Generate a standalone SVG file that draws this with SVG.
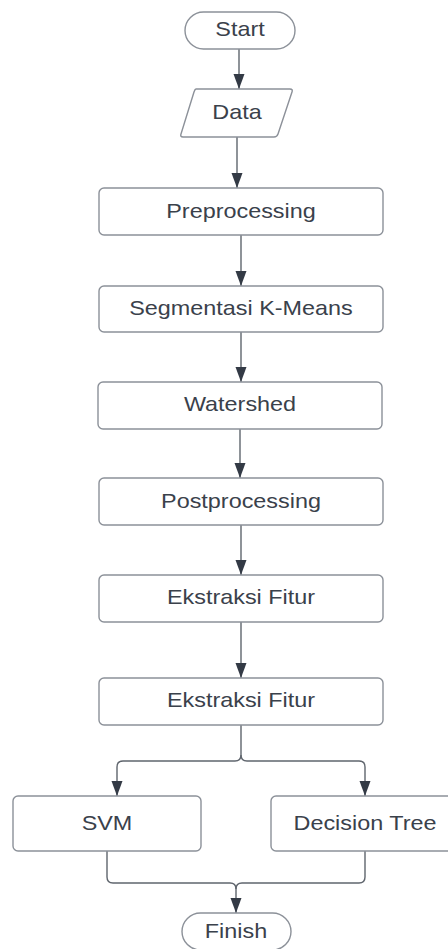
<svg xmlns="http://www.w3.org/2000/svg" width="448" height="949" viewBox="0 0 448 949">
<defs>
<marker id="ah" viewBox="0 0 15 12" refX="15" refY="6" markerWidth="15" markerHeight="12" markerUnits="userSpaceOnUse" orient="auto">
<path d="M0,0.5 L15,6 L0,11.5 Z" fill="#333a45"/>
</marker>
<style>
.box{fill:#ffffff;stroke:#8c9199;stroke-width:1.4}
.t{font-family:"Liberation Sans",Arial,sans-serif;font-size:20px;fill:#3a414b;text-anchor:middle}
.c{fill:none;stroke:#5f656d;stroke-width:1.4}
</style>
</defs>
<rect width="448" height="949" fill="#ffffff"/>
<g id="connectors">
<path class="c" d="M239,49 V89" marker-end="url(#ah)"/>
<path class="c" d="M237,137 V188" marker-end="url(#ah)"/>
<path class="c" d="M241,235 V286" marker-end="url(#ah)"/>
<path class="c" d="M241,332 V382" marker-end="url(#ah)"/>
<path class="c" d="M240,429 V478" marker-end="url(#ah)"/>
<path class="c" d="M241,525 V575" marker-end="url(#ah)"/>
<path class="c" d="M241,622 V678" marker-end="url(#ah)"/>
<path class="c" d="M241,725 V755 Q241,761 235,761 H123 Q117,761 117,767 V796" marker-end="url(#ah)"/>
<path class="c" d="M241,755 Q241,761 247,761 H359 Q365,761 365,767 V796" marker-end="url(#ah)"/>
<path class="c" d="M107,851 V877 Q107,883 113,883 H230 Q236,883 236,889 V913" marker-end="url(#ah)"/>
<path class="c" d="M365,851 V877 Q365,883 359,883 H242 Q236,883 236,889"/>
</g>
<g id="start">
<rect class="box" x="185" y="12" width="110" height="37" rx="18.5"/>
<text class="t" transform="translate(240,36) scale(1.17,1)">Start</text>
</g>
<g id="data">
<path class="box" d="M196,89 H290 Q293,89 292,92 L278,134 Q277,137 274,137 H183 Q180,137 181,134 L194,92 Q195,89 196,89 Z"/>
<text class="t" transform="translate(237,119) scale(1.17,1)">Data</text>
</g>
<g id="preprocessing">
<rect class="box" x="99" y="188" width="284" height="47" rx="5"/>
<text class="t" transform="translate(241,218) scale(1.17,1)">Preprocessing</text>
</g>
<g id="segmentasi">
<rect class="box" x="99" y="286" width="284" height="46" rx="5"/>
<text class="t" transform="translate(241,315) scale(1.17,1)">Segmentasi K-Means</text>
</g>
<g id="watershed">
<rect class="box" x="98" y="382" width="284" height="47" rx="5"/>
<text class="t" transform="translate(240,411) scale(1.17,1)">Watershed</text>
</g>
<g id="postprocessing">
<rect class="box" x="99" y="478" width="284" height="47" rx="5"/>
<text class="t" transform="translate(241,508) scale(1.17,1)">Postprocessing</text>
</g>
<g id="ekstraksi1">
<rect class="box" x="99" y="575" width="284" height="47" rx="5"/>
<text class="t" transform="translate(241,604) scale(1.17,1)">Ekstraksi Fitur</text>
</g>
<g id="ekstraksi2">
<rect class="box" x="99" y="678" width="284" height="47" rx="5"/>
<text class="t" transform="translate(241,707) scale(1.17,1)">Ekstraksi Fitur</text>
</g>
<g id="svm">
<rect class="box" x="13" y="796" width="188" height="55" rx="5"/>
<text class="t" transform="translate(107,830) scale(1.17,1)">SVM</text>
</g>
<g id="decision-tree">
<rect class="box" x="271" y="796" width="188" height="55" rx="5"/>
<text class="t" transform="translate(365,830) scale(1.17,1)">Decision Tree</text>
</g>
<g id="finish">
<rect class="box" x="182" y="913" width="109" height="37" rx="18.5"/>
<text class="t" transform="translate(236,938) scale(1.17,1)">Finish</text>
</g>
</svg>
